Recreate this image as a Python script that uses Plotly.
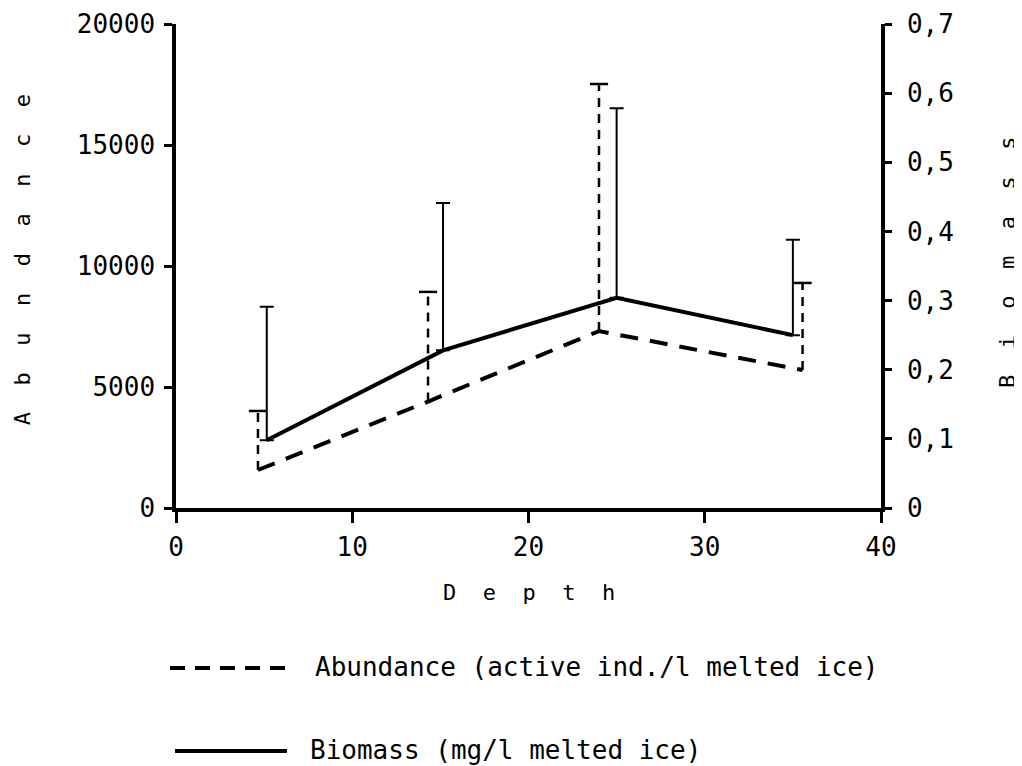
import plotly.graph_objects as go

# ---- data ----
abund_depth = [4.65, 14.3, 24.0, 35.55]
abund_value = [1570, 4400, 7310, 5700]
abund_upper = [4010, 8930, 17520, 9300]

bio_depth = [5.15, 15.15, 25.0, 35.0]
bio_value = [0.098, 0.228, 0.304, 0.250]
bio_upper = [0.291, 0.441, 0.578, 0.388]

x_ticks = [0, 10, 20, 30, 40]
y_ticks = [0, 5000, 10000, 15000, 20000]
y2_ticks = [0, 0.1, 0.2, 0.3, 0.4, 0.5, 0.6, 0.7]
y2_labels = ["0", "0,1", "0,2", "0,3", "0,4", "0,5", "0,6", "0,7"]

legend_abund = "Abundance (active ind./l melted ice)"
legend_bio = "Biomass (mg/l melted ice)"

FONT = "DejaVu Sans Mono"
NB = "\u00a0"


def spaced(word, n=2):
    return (NB * n).join(list(word))


fig = go.Figure()

# Abundance dashed error stems
stem_x, stem_y = [], []
for d, v, u in zip(abund_depth, abund_value, abund_upper):
    stem_x += [d, d, None]
    stem_y += [v, u, None]
fig.add_trace(go.Scatter(x=stem_x, y=stem_y, mode="lines",
                         line=dict(color="black", width=2.5, dash="9px,7px"),
                         hoverinfo="skip", showlegend=False))
# caps
fig.add_trace(go.Scatter(x=abund_depth, y=abund_upper, mode="markers",
                         marker=dict(symbol="line-ew", size=13,
                                     line=dict(color="black", width=2.5)),
                         hoverinfo="skip", showlegend=False))
# Abundance line
fig.add_trace(go.Scatter(x=abund_depth, y=abund_value, mode="lines",
                         line=dict(color="black", width=4, dash="18px,12px"),
                         name=legend_abund, showlegend=False))

# Biomass line with upper error bars
bio_err = [u - v for u, v in zip(bio_upper, bio_value)]
fig.add_trace(go.Scatter(x=bio_depth, y=bio_value, mode="lines", yaxis="y2",
                         line=dict(color="black", width=4),
                         error_y=dict(type="data", array=bio_err,
                                      arrayminus=[0] * len(bio_err),
                                      symmetric=False, color="black",
                                      thickness=2, width=7),
                         name=legend_bio, showlegend=False))

axis_common = dict(showline=True, linecolor="black", linewidth=3.5,
                   ticks="outside", tickcolor="black", tickwidth=3,
                   showgrid=False, zeroline=False, automargin=False,
                   tickfont=dict(family=FONT, size=26, color="black"))

fig.update_layout(
    width=1014, height=758, autosize=False,
    margin=dict(l=168, r=141, t=16, b=258),
    plot_bgcolor="white", paper_bgcolor="white",
    xaxis=dict(range=[0, 40], tickvals=x_ticks, ticklen=11,
               ticklabelstandoff=2, **axis_common),
    yaxis=dict(range=[0, 20000], tickvals=y_ticks,
               ticktext=[str(v) for v in y_ticks], ticklen=8,
               ticklabelstandoff=4, **axis_common),
    yaxis2=dict(range=[0, 0.7], tickvals=y2_ticks, ticktext=y2_labels,
                overlaying="y", side="right", anchor="x", ticklen=7,
                ticklabelstandoff=10, **axis_common),
    showlegend=False,
)

title_font = dict(family=FONT, size=22, color="black")
fig.add_annotation(text=spaced("Abundance"), xref="paper", yref="paper",
                   x=-0.2184, y=0.512, textangle=-90, showarrow=False,
                   font=title_font, xanchor="center", yanchor="middle")
fig.add_annotation(text=spaced("Depth"), xref="paper", yref="paper",
                   x=0.5, y=-0.1736, showarrow=False,
                   font=title_font, xanchor="center", yanchor="middle")
fig.add_annotation(text=spaced("Biomass"), xref="paper", yref="paper",
                   x=1.1787, y=0.508, textangle=-90, showarrow=False,
                   font=title_font, xanchor="center", yanchor="middle")

# Legend (drawn manually to match long line samples)
leg_font = dict(family=FONT, size=26, color="black")
fig.add_shape(type="line", xref="paper", yref="paper",
              x0=-0.0085, x1=0.1546, y0=-0.3306, y1=-0.3306,
              line=dict(color="black", width=4, dash="15px,10px"))
fig.add_annotation(text=legend_abund, xref="paper", yref="paper",
                   x=0.1943, y=-0.3285, showarrow=False, font=leg_font,
                   xanchor="left", yanchor="middle")
fig.add_shape(type="line", xref="paper", yref="paper",
              x0=-0.0014, x1=0.1574, y0=-0.502, y1=-0.502,
              line=dict(color="black", width=4))
fig.add_annotation(text=legend_bio, xref="paper", yref="paper",
                   x=0.1872, y=-0.50, showarrow=False, font=leg_font,
                   xanchor="left", yanchor="middle")

fig.write_html("out.html")
